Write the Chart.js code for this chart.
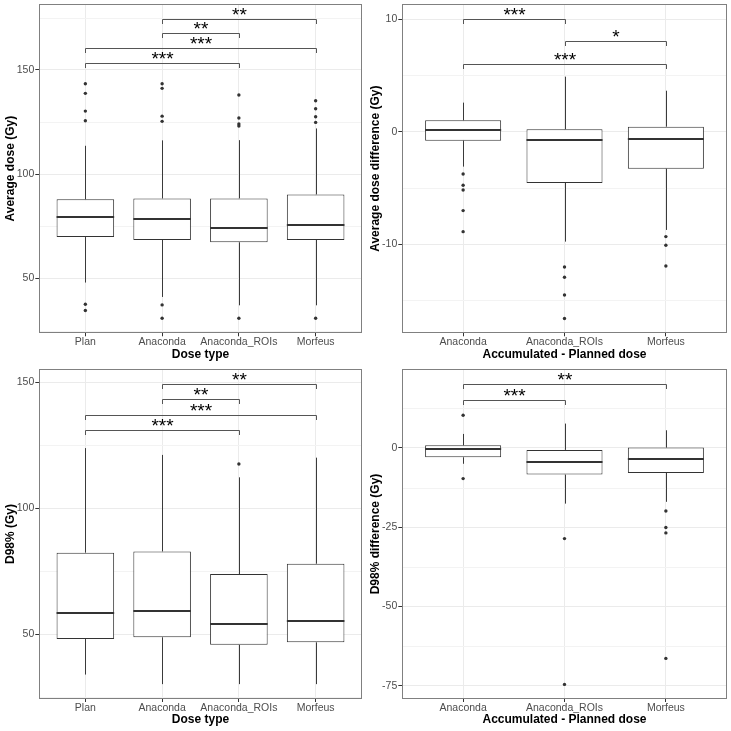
<!DOCTYPE html>
<html>
<head>
<meta charset="utf-8">
<script src="https://cdn.jsdelivr.net/npm/chart.js@4.4.1/dist/chart.umd.min.js"></script>
<style>
  html, body { margin: 0; padding: 0; background: #ffffff; }
  #wrap { position: relative; width: 731px; height: 731px; overflow: hidden; }
  canvas { position: absolute; }
</style>
</head>
<body>
<div id="wrap">
  <canvas id="c1" style="left:0px;top:0px;width:365px;height:365px" width="365" height="365"></canvas>
  <canvas id="c2" style="left:365px;top:0px;width:366px;height:365px" width="366" height="365"></canvas>
  <canvas id="c3" style="left:0px;top:365px;width:365px;height:366px" width="365" height="366"></canvas>
  <canvas id="c4" style="left:365px;top:365px;width:366px;height:366px" width="366" height="366"></canvas>
</div>
<script>
// ---------- categories ----------
const doseTypes = ['Plan', 'Anaconda', 'Anaconda_ROIs', 'Morfeus'];
const diffTypes = ['Anaconda', 'Anaconda_ROIs', 'Morfeus'];

// ---------- Panel 1: Average dose (Gy) ----------
const avgDoseQ1 = [69.9, 68.5, 67.4, 68.5];
const avgDoseMedian = [79.5, 78.4, 74.2, 75.5];
const avgDoseQ3 = [88.0, 88.4, 88.4, 90.3];
const avgDoseWhiskerLow = [48.1, 41.2, 37.2, 37.2];
const avgDoseWhiskerHigh = [113.6, 116.2, 116.3, 121.9];
const avgDoseOutliers = [
  [143.3, 138.7, 130.2, 125.6, 37.7, 34.7],
  [143.3, 141.1, 127.8, 125.3, 37.4, 31.0],
  [137.9, 126.9, 124.0, 123.1, 31.0],
  [135.2, 131.3, 127.5, 124.8, 31.0]
];
const avgDoseTicks = [50, 100, 150];
const avgDoseMinorTicks = [25, 75, 125, 175];
const avgDoseRange = [23.8, 181.5];
const avgDoseSigFrom = ['Anaconda', 'Anaconda', 'Plan', 'Plan'];
const avgDoseSigTo = ['Morfeus', 'Anaconda_ROIs', 'Morfeus', 'Anaconda_ROIs'];
const avgDoseSigY = [174.2, 167.4, 160.4, 153.2];
const avgDoseSigLabel = ['**', '**', '***', '***'];

// ---------- Panel 2: Average dose difference (Gy) ----------
const avgDiffQ1 = [-0.80, -4.56, -3.29];
const avgDiffMedian = [0.12, -0.77, -0.62];
const avgDiffQ3 = [1.01, 0.21, 0.44];
const avgDiffWhiskerLow = [-3.11, -9.78, -8.74];
const avgDiffWhiskerHigh = [2.58, 4.89, 3.64];
const avgDiffOutliers = [
  [-3.76, -4.77, -5.19, -7.02, -8.89],
  [-12.03, -12.95, -14.52, -16.62],
  [-9.33, -10.10, -11.94]
];
const avgDiffTicks = [-10, 0, 10];
const avgDiffMinorTicks = [-15, -5, 5];
const avgDiffRange = [-17.93, 11.35];
const avgDiffSigFrom = ['Anaconda', 'Anaconda_ROIs', 'Anaconda'];
const avgDiffSigTo = ['Anaconda_ROIs', 'Morfeus', 'Morfeus'];
const avgDiffSigY = [10.0, 8.03, 5.99];
const avgDiffSigLabel = ['***', '*', '***'];

// ---------- Panel 3: D98% (Gy) ----------
const d98Q1 = [48.1, 48.8, 45.8, 46.8];
const d98Median = [58.3, 59.4, 54.0, 55.3];
const d98Q3 = [82.4, 82.9, 73.9, 78.0];
const d98WhiskerLow = [34.0, 30.2, 30.2, 30.2];
const d98WhiskerHigh = [123.9, 121.2, 112.3, 120.1];
const d98Outliers = [[], [], [117.6], []];
const d98Ticks = [50, 100, 150];
const d98MinorTicks = [25, 75, 125];
const d98Range = [24.3, 155.3];
const d98SigFrom = ['Anaconda', 'Anaconda', 'Plan', 'Plan'];
const d98SigTo = ['Morfeus', 'Anaconda_ROIs', 'Morfeus', 'Anaconda_ROIs'];
const d98SigY = [149.2, 143.3, 137.2, 131.1];
const d98SigLabel = ['**', '**', '***', '***'];

// ---------- Panel 4: D98% difference (Gy) ----------
const d98DiffQ1 = [-2.95, -8.41, -7.89];
const d98DiffMedian = [-0.42, -4.42, -3.37];
const d98DiffQ3 = [0.84, -0.63, 0.10];
const d98DiffWhiskerLow = [-5.0, -17.57, -17.0];
const d98DiffWhiskerHigh = [4.42, 7.68, 5.57];
const d98DiffOutliers = [
  [10.3, -9.68],
  [-28.6, -74.6],
  [-19.9, -25.1, -26.8, -66.4]
];
const d98DiffTicks = [-75, -50, -25, 0];
const d98DiffMinorTicks = [-62.5, -37.5, -12.5, 12.5];
const d98DiffRange = [-79.2, 24.9];
const d98DiffSigFrom = ['Anaconda', 'Anaconda'];
const d98DiffSigTo = ['Morfeus', 'Anaconda_ROIs'];
const d98DiffSigY = [20.1, 15.0];
const d98DiffSigLabel = ['**', '***'];

Chart.defaults.font.family = "'Liberation Sans', Arial, Helvetica, sans-serif";
Chart.defaults.animation = false;

function makePanel(id, p) {
  const cats = p.categories;
  const n = cats.length;
  const boxData = cats.map((c, i) => ({ x: i + 1, y: [p.q1[i], p.q3[i]] }));
  const outData = [];
  p.outliers.forEach((arr, i) => arr.forEach(v => outData.push({ x: i + 1, y: v })));

  const boxPlugin = {
    id: 'boxparts',
    beforeDatasetsDraw(chart) {
      const { ctx, chartArea: a, scales: { x, y } } = chart;
      ctx.save();
      // minor grid
      ctx.strokeStyle = '#F3F3F3';
      ctx.lineWidth = 1;
      p.minorTicks.forEach(v => {
        const py = Math.round(y.getPixelForValue(v)) + 0.5;
        ctx.beginPath(); ctx.moveTo(a.left, py); ctx.lineTo(a.right, py); ctx.stroke();
      });
      // whiskers
      ctx.strokeStyle = '#3a3a3a';
      ctx.lineWidth = 1;
      cats.forEach((c, i) => {
        const px = Math.round(x.getPixelForValue(i + 1)) + 0.5;
        ctx.beginPath();
        ctx.moveTo(px, y.getPixelForValue(p.q3[i]));
        ctx.lineTo(px, y.getPixelForValue(p.whiskerHigh[i]));
        ctx.moveTo(px, y.getPixelForValue(p.q1[i]));
        ctx.lineTo(px, y.getPixelForValue(p.whiskerLow[i]));
        ctx.stroke();
      });
      ctx.restore();
    },
    afterDatasetsDraw(chart) {
      const { ctx, chartArea: a, scales: { x, y } } = chart;
      const meta = chart.getDatasetMeta(0);
      ctx.save();
      // medians
      ctx.strokeStyle = '#333333';
      ctx.lineWidth = 2;
      cats.forEach((c, i) => {
        const bar = meta.data[i];
        const py = Math.round(y.getPixelForValue(p.median[i]));
        ctx.beginPath();
        ctx.moveTo(bar.x - bar.width / 2, py);
        ctx.lineTo(bar.x + bar.width / 2, py);
        ctx.stroke();
      });
      // significance brackets
      ctx.strokeStyle = '#555555';
      ctx.lineWidth = 1;
      ctx.fillStyle = '#000000';
      ctx.font = "19px 'Liberation Sans', Arial, sans-serif";
      ctx.textAlign = 'center';
      ctx.textBaseline = 'alphabetic';
      p.sigFrom.forEach((f, k) => {
        const x1 = Math.round(x.getPixelForValue(cats.indexOf(f) + 1)) + 0.5;
        const x2 = Math.round(x.getPixelForValue(cats.indexOf(p.sigTo[k]) + 1)) + 0.5;
        const py = Math.round(y.getPixelForValue(p.sigY[k])) + 0.5;
        const tip = 4.5;
        ctx.beginPath();
        ctx.moveTo(x1, py + tip);
        ctx.lineTo(x1, py);
        ctx.lineTo(x2, py);
        ctx.lineTo(x2, py + tip);
        ctx.stroke();
        ctx.fillText(p.sigLabel[k], (x1 + x2) / 2, py + 1.2);
      });
      // panel border
      ctx.strokeStyle = '#808080';
      ctx.lineWidth = 1;
      ctx.strokeRect(Math.round(a.left) + 0.5, Math.round(a.top) + 0.5,
        Math.round(a.right) - Math.round(a.left) - 1, Math.round(a.bottom) - Math.round(a.top) - 1);
      ctx.restore();
    }
  };

  return new Chart(document.getElementById(id), {
    type: 'bar',
    data: {
      datasets: [
        {
          type: 'bar', data: boxData, backgroundColor: '#ffffff', borderColor: '#333333',
          borderWidth: 1, borderSkipped: false, barPercentage: 0.75, categoryPercentage: 1, order: 2
        },
        {
          type: 'scatter', data: outData, pointRadius: 1.7, pointBackgroundColor: '#333333',
          pointBorderWidth: 0, pointHoverRadius: 1.7, order: 1
        }
      ]
    },
    options: {
      responsive: false,
      animation: false,
      events: [],
      layout: { padding: { left: 0, right: p.padRight, top: p.padTop, bottom: 0 } },
      plugins: { legend: { display: false }, tooltip: { enabled: false } },
      scales: {
        x: {
          type: 'linear', min: 0.4, max: n + 0.6, offset: false,
          afterBuildTicks: s => { s.ticks = cats.map((c, i) => ({ value: i + 1 })); },
          afterFit: s => { s.height = p.xAxisHeight; s.paddingLeft = 0; s.paddingRight = 0; },
          ticks: {
            callback: v => cats[Math.round(v) - 1], color: '#4D4D4D',
            font: { size: 10.5 }, padding: 0, maxRotation: 0, minRotation: 0, autoSkip: false
          },
          grid: { offset: false, color: '#EBEBEB', lineWidth: 1, tickColor: '#333333', tickLength: 3, drawTicks: true },
          border: { display: false },
          title: {
            display: true, text: p.xTitle, color: '#000000',
            font: { size: 12, weight: 'bold' }, padding: { top: 0, bottom: p.xTitlePad }
          }
        },
        y: {
          type: 'linear', min: p.range[0], max: p.range[1],
          afterBuildTicks: s => { s.ticks = p.ticks.map(v => ({ value: v })); },
          afterFit: s => { s.width = p.yAxisWidth; s.paddingTop = 0; s.paddingBottom = 0; },
          ticks: { callback: v => String(v), color: '#4D4D4D', font: { size: 10.5 }, padding: 1 },
          grid: { color: '#EBEBEB', lineWidth: 1, tickColor: '#333333', tickLength: 4, drawTicks: true },
          border: { display: false },
          title: {
            display: true, text: p.yTitle, color: '#000000',
            font: { size: 12, weight: 'bold' }, padding: { top: 3.2, bottom: 0 }
          }
        }
      }
    },
    plugins: [boxPlugin]
  });
}

makePanel('c1', {
  categories: doseTypes, q1: avgDoseQ1, median: avgDoseMedian, q3: avgDoseQ3,
  whiskerLow: avgDoseWhiskerLow, whiskerHigh: avgDoseWhiskerHigh, outliers: avgDoseOutliers,
  ticks: avgDoseTicks, minorTicks: avgDoseMinorTicks, range: avgDoseRange,
  sigFrom: avgDoseSigFrom, sigTo: avgDoseSigTo, sigY: avgDoseSigY, sigLabel: avgDoseSigLabel,
  xTitle: 'Dose type', yTitle: 'Average dose (Gy)',
  yAxisWidth: 39.3, xAxisHeight: 31.7, padRight: 3.3, padTop: 4, xTitlePad: 3.5
});
makePanel('c2', {
  categories: diffTypes, q1: avgDiffQ1, median: avgDiffMedian, q3: avgDiffQ3,
  whiskerLow: avgDiffWhiskerLow, whiskerHigh: avgDiffWhiskerHigh, outliers: avgDiffOutliers,
  ticks: avgDiffTicks, minorTicks: avgDiffMinorTicks, range: avgDiffRange,
  sigFrom: avgDiffSigFrom, sigTo: avgDiffSigTo, sigY: avgDiffSigY, sigLabel: avgDiffSigLabel,
  xTitle: 'Accumulated - Planned dose', yTitle: 'Average dose difference (Gy)',
  yAxisWidth: 37.3, xAxisHeight: 31.7, padRight: 4.3, padTop: 4, xTitlePad: 3.5
});
makePanel('c3', {
  categories: doseTypes, q1: d98Q1, median: d98Median, q3: d98Q3,
  whiskerLow: d98WhiskerLow, whiskerHigh: d98WhiskerHigh, outliers: d98Outliers,
  ticks: d98Ticks, minorTicks: d98MinorTicks, range: d98Range,
  sigFrom: d98SigFrom, sigTo: d98SigTo, sigY: d98SigY, sigLabel: d98SigLabel,
  xTitle: 'Dose type', yTitle: 'D98% (Gy)',
  yAxisWidth: 39.3, xAxisHeight: 32, padRight: 3.3, padTop: 4, xTitlePad: 3.8
});
makePanel('c4', {
  categories: diffTypes, q1: d98DiffQ1, median: d98DiffMedian, q3: d98DiffQ3,
  whiskerLow: d98DiffWhiskerLow, whiskerHigh: d98DiffWhiskerHigh, outliers: d98DiffOutliers,
  ticks: d98DiffTicks, minorTicks: d98DiffMinorTicks, range: d98DiffRange,
  sigFrom: d98DiffSigFrom, sigTo: d98DiffSigTo, sigY: d98DiffSigY, sigLabel: d98DiffSigLabel,
  xTitle: 'Accumulated - Planned dose', yTitle: 'D98% difference (Gy)',
  yAxisWidth: 37.3, xAxisHeight: 32, padRight: 4.3, padTop: 4, xTitlePad: 3.8
});
</script>
</body>
</html>
